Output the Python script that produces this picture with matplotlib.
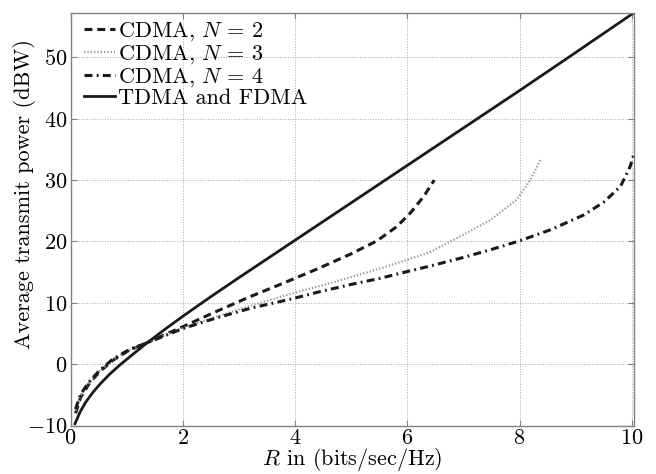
import numpy as np
import matplotlib
matplotlib.use('Agg')
import matplotlib.pyplot as plt

plt.rcParams['font.family'] = 'serif'
plt.rcParams['font.serif'] = ['cmr10']
plt.rcParams['mathtext.fontset'] = 'cm'
plt.rcParams['axes.formatter.use_mathtext'] = True

# values
r_tdma = [0.08, 0.17, 0.27, 0.39, 0.51, 0.69, 0.87, 1.11, 1.34, 1.70, 2.0, 2.5, 3.0,
          4.0, 5.0, 6.0, 7.0, 8.0, 9.0, 10.04]
p_tdma = [-9.7, -7.8, -6.2, -4.7, -3.4, -1.7, -0.2, 1.6, 3.3, 5.8, 7.8, 11.0, 14.1,
          20.2, 26.3, 32.4, 38.5, 44.6, 50.8, 57.3]

r_n2 = [0.09, 0.18, 0.33, 0.51, 0.75, 1.05, 1.34, 1.70, 2.0, 2.55, 3.2, 3.79, 4.39,
        4.98, 5.46, 5.81, 6.05, 6.29, 6.48]
p_n2 = [-8.0, -5.4, -3.2, -1.3, 0.6, 2.3, 3.4, 4.9, 6.1, 8.4, 11.0, 13.2, 15.5,
        17.9, 20.1, 22.4, 24.6, 27.3, 30.0]

r_n3 = [0.09, 0.18, 0.33, 0.51, 0.75, 1.05, 1.34, 1.70, 2.0, 2.55, 3.2, 3.97, 4.39,
        5.0, 5.52, 6.0, 6.41, 7.0, 7.48, 7.95, 8.19, 8.38]
p_n3 = [-7.6, -5.1, -3.0, -1.2, 0.7, 2.3, 3.4, 4.8, 5.9, 7.6, 9.5, 11.6, 12.6,
        14.2, 15.6, 17.0, 18.3, 21.1, 23.5, 26.8, 30.0, 33.4]

r_n4 = [0.09, 0.18, 0.33, 0.51, 0.75, 1.05, 1.34, 1.70, 2.0, 2.55, 3.2, 3.97, 4.39,
        5.0, 5.52, 6.0, 6.41, 7.0, 7.5, 8.0, 8.55, 9.14, 9.5, 9.8, 9.97, 10.04]
p_n4 = [-7.3, -4.9, -2.9, -1.1, 0.8, 2.4, 3.4, 4.7, 5.8, 7.4, 9.1, 10.7, 11.7,
        13.0, 14.0, 15.1, 16.0, 17.4, 18.7, 20.1, 21.9, 24.3, 26.4, 29.0, 32.2, 34.3]

xticks = [0, 2, 4, 6, 8, 10]
yticks = [-10, 0, 10, 20, 30, 40, 50]

fig = plt.figure(figsize=(6.56, 4.74), dpi=100)
ax = fig.add_axes([0.1075, 0.1023, 0.859, 0.871])

ax.plot(r_n2, p_n2, color='0.1', lw=2.2, dashes=(2.6, 1.6), label=r'CDMA, $N\,=\,2$')
ax.plot(r_n3, p_n3, color='0.6', lw=1.6, dashes=(0.6, 0.9), label=r'CDMA, $N\,=\,3$')
ax.plot(r_n4, p_n4, color='0.1', lw=2.2, dashes=(2.6, 1.4, 0.6, 1.4), label=r'CDMA, $N\,=\,4$')
ax.plot(r_tdma, p_tdma, color='0.1', lw=2.0, label='TDMA and FDMA')

ax.set_xlim(0, 10.04)
ax.set_ylim(-10, 57.3)
ax.set_xticks(xticks)
ax.set_yticks(yticks)
ax.grid(True, ls=':', color='0.65', lw=0.7)
ax.tick_params(direction='in', top=True, right=True, length=4, color='0.5',
               labelsize=16, pad=2)
for s in ax.spines.values():
    s.set_color('0.5')
    s.set_linewidth(1.0)

ax.set_xlabel(r'$R$ in (bits/sec/Hz)', fontsize=16, labelpad=-1)
ax.set_ylabel('Average transmit power (dBW)', fontsize=16)
ax.yaxis.set_label_coords(-0.062, 0.56)

ax.legend(loc='upper left', bbox_to_anchor=(0.01, 1.0), frameon=False, fontsize=16,
          handlelength=1.4, handletextpad=0.15, labelspacing=0.0, borderaxespad=0.25,
          borderpad=0.1)

fig.savefig('out.png', dpi=100)
